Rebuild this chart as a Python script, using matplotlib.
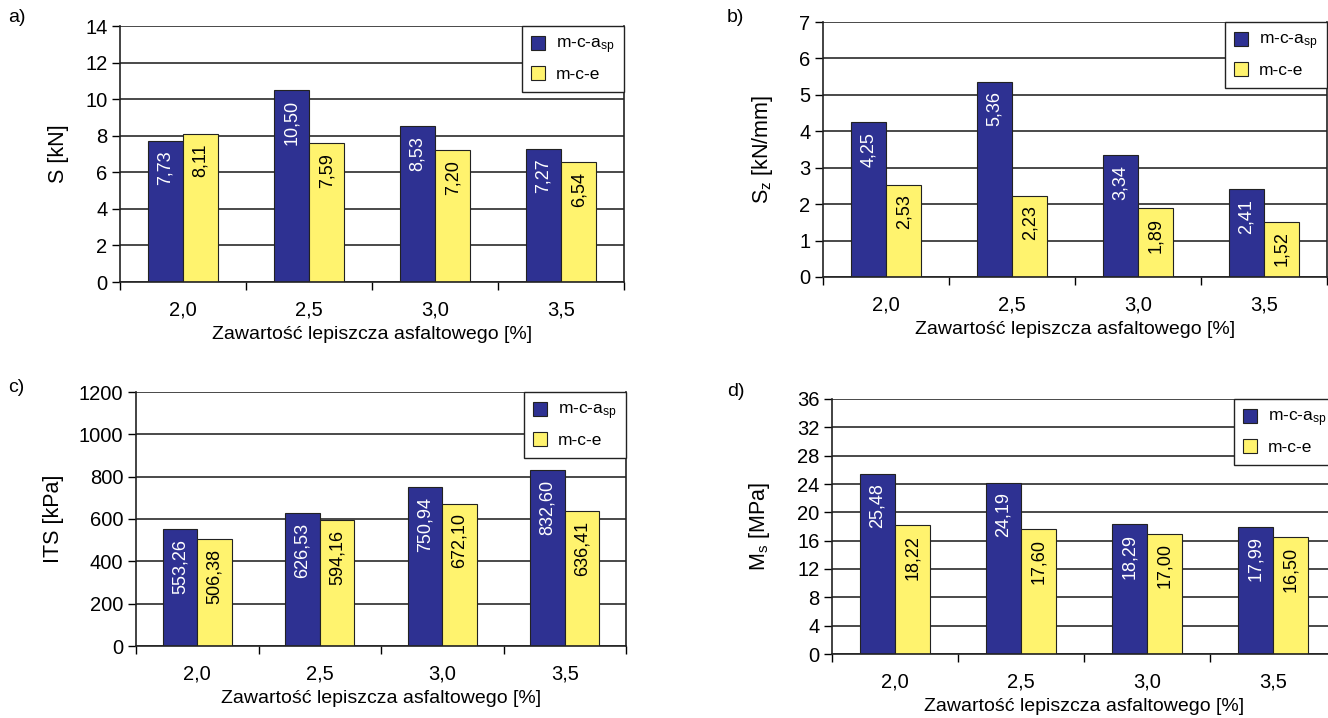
import numpy as np
import matplotlib.pyplot as plt

plt.rcParams['font.family'] = ['Liberation Sans', 'DejaVu Sans']
plt.rcParams['mathtext.default'] = 'regular'

# Binder content categories
categories = ['2,0', '2,5', '3,0', '3,5']
series_names = ['m-c-a$_{sp}$', 'm-c-e']

# a) S [kN]
s_asp = [7.73, 10.50, 8.53, 7.27]
s_e = [8.11, 7.59, 7.20, 6.54]
s_labels_asp = ['7,73', '10,50', '8,53', '7,27']
s_labels_e = ['8,11', '7,59', '7,20', '6,54']

# b) Sz [kN/mm]
sz_asp = [4.25, 5.36, 3.34, 2.41]
sz_e = [2.53, 2.23, 1.89, 1.52]
sz_labels_asp = ['4,25', '5,36', '3,34', '2,41']
sz_labels_e = ['2,53', '2,23', '1,89', '1,52']

# c) ITS [kPa]
its_asp = [553.26, 626.53, 750.94, 832.60]
its_e = [506.38, 594.16, 672.10, 636.41]
its_labels_asp = ['553,26', '626,53', '750,94', '832,60']
its_labels_e = ['506,38', '594,16', '672,10', '636,41']

# d) Ms [MPa]
ms_asp = [25.48, 24.19, 18.29, 17.99]
ms_e = [18.22, 17.60, 17.00, 16.50]
ms_labels_asp = ['25,48', '24,19', '18,29', '17,99']
ms_labels_e = ['18,22', '17,60', '17,00', '16,50']

BLUE = '#2e3192'
YELLOW = '#fff36e'
W, H = 1328, 718


def add_axes(fig, left, right, top, bottom):
    return fig.add_axes([left / W, 1 - bottom / H, (right - left) / W, (bottom - top) / H])


def panel(ax, v1, v2, lab1, lab2, ymax, ystep, ylabel, ylab_x):
    x = np.arange(len(categories))
    bw = 0.28
    ax.set_axisbelow(True)
    b1 = ax.bar(x - bw / 2, v1, bw, color=BLUE, edgecolor='#222222', linewidth=0.8, label=series_names[0])
    b2 = ax.bar(x + bw / 2, v2, bw, color=YELLOW, edgecolor='#222222', linewidth=0.8, label=series_names[1])
    for bars, labs, col in ((b1, lab1, 'white'), (b2, lab2, 'black')):
        for b, t in zip(bars, labs):
            ax.annotate(t, (b.get_x() + b.get_width() / 2, b.get_height()),
                        xytext=(0, -7), textcoords='offset points',
                        rotation=90, ha='center', va='top', fontsize=13, color=col)
    ax.set_xlim(-0.5, 3.5)
    ax.set_ylim(0, ymax)
    ax.set_yticks(np.arange(0, ymax + ystep / 2, ystep))
    ax.yaxis.grid(True, color='#3a3a3a', linewidth=1.3)
    ax.set_xticks(x)
    ax.set_xticklabels(categories)
    ax.set_xticks(np.arange(-0.5, 4, 1), minor=True)
    ax.tick_params(axis='x', which='major', length=0, pad=13, labelsize=14.5)
    ax.tick_params(axis='x', which='minor', length=6, width=1, direction='out')
    ax.tick_params(axis='y', length=6, width=1, direction='out', labelsize=14.5, pad=3)
    ax.spines['top'].set_visible(False)
    for sp in ('left', 'right', 'bottom'):
        ax.spines[sp].set_linewidth(1.2)
        ax.spines[sp].set_color('#222222')
    ax.set_xlabel('Zawartość lepiszcza asfaltowego [%]', fontsize=14, labelpad=5)
    ax.set_ylabel(ylabel, fontsize=15.5)
    ax.yaxis.set_label_coords(ylab_x, 0.5)
    leg = ax.legend(loc='upper right', borderaxespad=0, fancybox=False, framealpha=1,
                    edgecolor='#222222', fontsize=12.5, handlelength=0.8, handleheight=0.9,
                    handletextpad=0.6, borderpad=0.55, labelspacing=0.55)
    leg.get_frame().set_linewidth(1.0)


fig = plt.figure(figsize=(W / 100, H / 100), dpi=100)

ax_a = add_axes(fig, 120, 624, 26, 282)
panel(ax_a, s_asp, s_e, s_labels_asp, s_labels_e, 14, 2, 'S [kN]', -0.101)

ax_b = add_axes(fig, 823, 1327, 22, 277)
panel(ax_b, sz_asp, sz_e, sz_labels_asp, sz_labels_e, 7, 1, 'S$_z$ [kN/mm]', -0.095)

ax_c = add_axes(fig, 136, 626, 392, 646)
panel(ax_c, its_asp, its_e, its_labels_asp, its_labels_e, 1200, 200, 'ITS [kPa]', -0.147)

ax_d = add_axes(fig, 832, 1336, 399, 654)
panel(ax_d, ms_asp, ms_e, ms_labels_asp, ms_labels_e, 36, 4, 'M$_s$ [MPa]', -0.119)

for txt, px, py in (('a)', 8, 18), ('b)', 727, 18), ('c)', 8, 388), ('d)', 727, 392)):
    fig.text(px / W, 1 - py / H, txt, fontsize=14, va='center', ha='left')

fig.savefig('out.png', dpi=100)
